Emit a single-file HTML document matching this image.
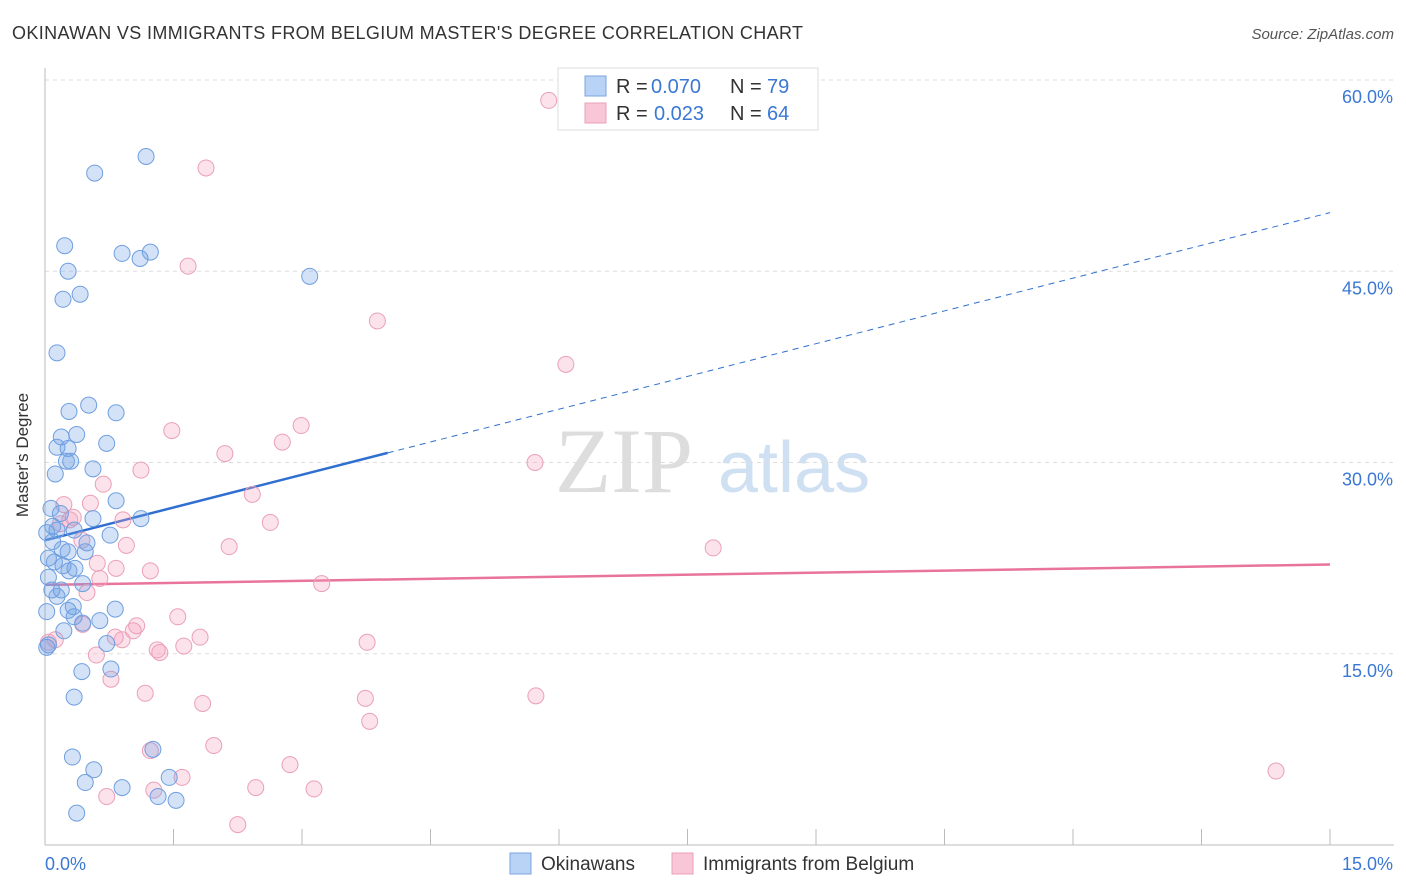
<!DOCTYPE html>
<html><head><meta charset="utf-8"><style>
body{margin:0;background:#fff;font-family:"Liberation Sans",sans-serif}
svg{display:block}
</style></head><body>
<svg id="chart" width="1406" height="892" xmlns="http://www.w3.org/2000/svg">
<text x="12" y="39" font-size="18" fill="#333" textLength="791">OKINAWAN VS IMMIGRANTS FROM BELGIUM MASTER'S DEGREE CORRELATION CHART</text>
<text x="1394" y="39" font-size="15" fill="#555" font-style="italic" text-anchor="end">Source: ZipAtlas.com</text>
<text x="28" y="455" font-size="17" fill="#333" text-anchor="middle" transform="rotate(-90 28 455)">Master's Degree</text>
<g><text x="555" y="492" font-size="92" fill="#ddd" font-family="Liberation Serif,serif">ZIP</text><text x="718" y="492" font-size="72" fill="#cfe0f3">atlas</text></g>
<g id="grid"></g><g id="trend"></g><g id="pts"></g>
<g>
<rect x="558" y="68" width="260" height="62" fill="#fff" stroke="#ddd"/>
<rect x="585" y="76" width="21" height="20" fill="#b8d3f5" stroke="#7aa6e0"/>
<rect x="585" y="103" width="21" height="20" fill="#f8c6d6" stroke="#eaa0b8"/>
<text x="616" y="93" font-size="20" fill="#333">R =</text>
<text x="651" y="93" font-size="20" fill="#3a78d4">0.070</text>
<text x="730" y="93" font-size="20" fill="#333">N =</text>
<text x="767" y="93" font-size="20" fill="#3a78d4">79</text>
<text x="616" y="120" font-size="20" fill="#333">R =</text>
<text x="654" y="120" font-size="20" fill="#3a78d4">0.023</text>
<text x="730" y="120" font-size="20" fill="#333">N =</text>
<text x="767" y="120" font-size="20" fill="#3a78d4">64</text>
</g>
<g>
<rect x="510" y="853" width="21" height="21" fill="#b8d3f5" stroke="#7aa6e0"/>
<text x="541" y="870" font-size="19" fill="#333">Okinawans</text>
<rect x="672" y="853" width="21" height="21" fill="#f8c6d6" stroke="#eaa0b8"/>
<text x="703" y="870" font-size="19" fill="#333">Immigrants from Belgium</text>
</g>
</svg>
<script>
const blueX=[1.18,0.58,0.23,0.90,1.23,1.11,0.27,3.09,0.21,0.41,0.14,0.28,0.51,0.83,0.19,0.37,0.14,0.27,0.72,0.25,0.30,0.56,0.12,0.83,0.07,0.18,0.56,1.12,0.09,0.14,0.34,0.02,0.76,0.09,0.49,0.20,0.27,0.47,0.04,0.11,0.21,0.35,0.28,0.04,0.44,0.08,0.19,0.14,0.33,0.27,0.82,0.02,0.34,0.64,0.44,0.22,0.72,0.02,0.77,0.43,0.34,1.26,0.32,0.57,1.45,0.47,0.90,1.32,1.53,0.37,0.04];
const blueY=[54.0,52.7,47.0,46.4,46.5,46.0,45.0,44.6,42.8,43.2,38.6,34.0,34.5,33.9,32.0,32.2,31.2,31.1,31.5,30.1,30.1,29.5,29.1,27.0,26.4,26.0,25.6,25.6,25.0,24.7,24.7,24.5,24.3,23.8,23.7,23.2,23.0,23.0,22.5,22.2,21.9,21.7,21.5,21.0,20.5,20.0,20.0,19.5,18.7,18.4,18.5,18.3,17.9,17.6,17.4,16.8,15.8,15.5,13.8,13.6,11.6,7.5,6.9,5.9,5.3,4.9,4.5,3.8,3.5,2.5,15.7];
const pinkX=[5.88,1.88,1.67,3.88,6.08,1.48,2.99,2.10,2.77,1.12,5.72,0.22,0.68,0.53,2.42,0.29,0.91,0.18,2.63,0.43,0.95,2.15,7.80,0.61,0.83,1.23,0.64,3.23,0.49,1.55,1.07,0.44,1.03,0.82,0.90,1.81,1.62,1.31,1.34,3.76,0.60,0.77,1.17,3.74,5.73,1.84,3.79,1.97,1.23,2.86,1.60,1.27,2.46,3.14,0.72,2.25,14.37,0.04,0.12,0.33];
const pinkY=[58.4,53.1,45.4,41.1,37.7,32.5,32.9,30.7,31.6,29.4,30.0,26.7,28.3,26.8,27.5,25.5,25.5,25.2,25.3,23.9,23.5,23.4,23.3,22.1,21.7,21.5,20.9,20.5,19.8,17.9,17.2,17.3,16.8,16.3,16.1,16.3,15.6,15.3,15.1,15.9,14.9,13.0,11.9,11.5,11.7,11.1,9.7,7.8,7.4,6.3,5.3,4.3,4.5,4.4,3.8,1.6,5.8,15.9,16.1,25.7];
const yTicks=[15,30,45,60];
const yTickLabels=["15.0%","30.0%","45.0%","60.0%"];
const blueTrend=[23.9,49.6];const blueSolidEnd=4.0;
const pinkTrend=[20.4,22.0];
const NS="http://www.w3.org/2000/svg";
const sx=v=>45+v/15*1285, sy=v=>845-v*12.75;
function mk(t,a,p){const e=document.createElementNS(NS,t);for(const k in a)e.setAttribute(k,a[k]);p.appendChild(e);return e;}
const g=document.getElementById('grid');
yTicks.forEach((t,i)=>{
 const l=mk('line',{x1:45,x2:1394,y1:sy(t),y2:sy(t),stroke:'#ddd','stroke-dasharray':'4,4'},g);
 
 
 const tx=mk('text',{x:1393,y:sy(t)+23,'font-size':18,fill:'#3a78d4','text-anchor':'end'},g);tx.textContent=yTickLabels[i];
 
 
});
mk('line',{x1:45,x2:45,y1:68,y2:845,stroke:'#bbb'},g);
mk('line',{x1:45,x2:1394,y1:845,y2:845,stroke:'#bbb'},g);
for(let i=0;i<=10;i++){const x=sx(i*1.5);const tk=mk('line',{x1:x,x2:x,y1:829,y2:845,stroke:'#bbb'},g);
 
 }
const x0=mk('text',{x:45,y:870,'font-size':18,fill:'#3a78d4'},g);x0.textContent='0.0%';


const x1=mk('text',{x:1393,y:870,'font-size':18,fill:'#3a78d4','text-anchor':'end'},g);x1.textContent='15.0%';


const pg=document.getElementById('pts');
function pts(X,Y,fill,stroke,name){X.forEach((x,i)=>{const c=mk('circle',{cx:sx(x),cy:sy(Y[i]),r:8,fill:fill,stroke:stroke,'stroke-width':1},pg);
 
 });}
pts(pinkX,pinkY,'rgba(244,160,190,0.3)','#eaa0b8','belgium-point');
pts(blueX,blueY,'rgba(110,160,230,0.3)','#6f9fe0','okinawan-point');
const tg=document.getElementById('trend');
const bv=x=>blueTrend[0]+(blueTrend[1]-blueTrend[0])*x/15;
const b1=mk('line',{x1:sx(0),y1:sy(bv(0)),x2:sx(blueSolidEnd),y2:sy(bv(blueSolidEnd)),stroke:'#2f6fd0','stroke-width':2.5},tg);


const b2=mk('line',{x1:sx(blueSolidEnd),y1:sy(bv(blueSolidEnd)),x2:sx(15),y2:sy(bv(15)),stroke:'#2f6fd0','stroke-width':1,'stroke-dasharray':'6,5'},tg);


const p1=mk('line',{x1:sx(0),y1:sy(pinkTrend[0]),x2:sx(15),y2:sy(pinkTrend[1]),stroke:'#e8739c','stroke-width':2.5},tg);


</script>
</body></html>
